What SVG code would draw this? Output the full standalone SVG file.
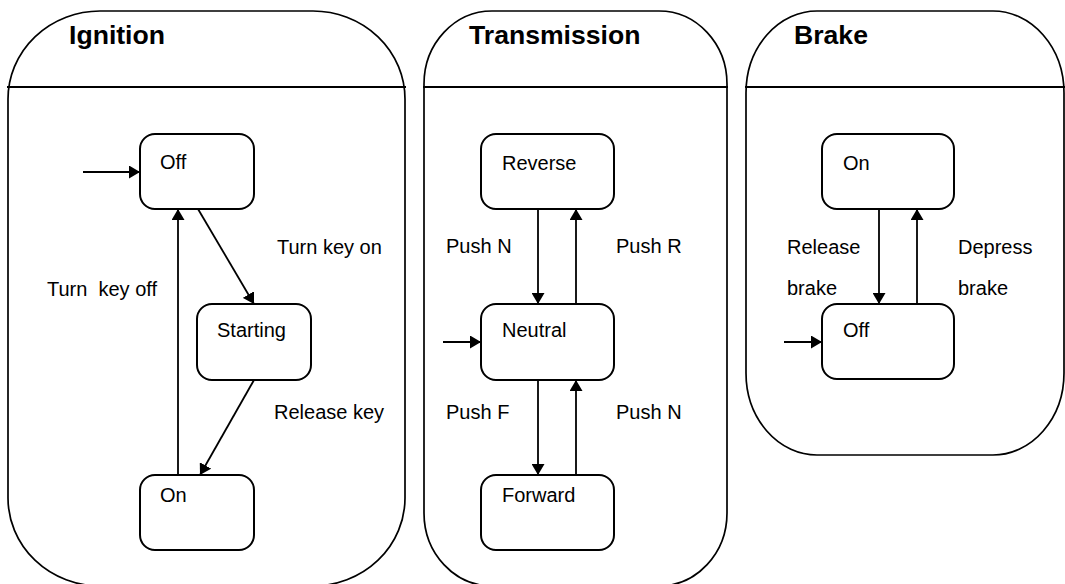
<svg xmlns="http://www.w3.org/2000/svg" width="1065" height="584" viewBox="0 0 1065 584">
  <style>
    .region { fill: none; stroke: #000; stroke-width: 1.7; }
    .divider { stroke: #000; stroke-width: 2.2; }
    .state { fill: #fff; stroke: #000; stroke-width: 2; }
    .title { font-family: "Liberation Sans", Arial, sans-serif; font-size: 26.6px; font-weight: bold; fill: #000; }
    .label { font-family: "Liberation Sans", Arial, sans-serif; font-size: 20px; fill: #000; white-space: pre; }
    .edge { fill: none; stroke: #000; stroke-width: 1.8; marker-end: url(#arrow); }
  </style>
  <defs>
    <marker id="arrow" markerUnits="userSpaceOnUse" markerWidth="12" markerHeight="13" refX="11" refY="6.5" orient="auto">
      <path d="M0,0 L11,6.5 L0,13 Z" fill="#000"/>
    </marker>
  </defs>
  <rect width="1065" height="584" fill="#fff"/>

  <!-- Orthogonal regions -->
  <g id="region-ignition">
    <rect class="region" x="8" y="11" width="397" height="575" rx="92" ry="88"/>
    <line class="divider" x1="7" y1="87" x2="406" y2="87"/>
    <text class="title" x="69" y="44">Ignition</text>
  </g>
  <g id="region-transmission">
    <rect class="region" x="424" y="11" width="303" height="575" rx="68" ry="73"/>
    <line class="divider" x1="423" y1="87" x2="728" y2="87"/>
    <text class="title" x="469" y="44">Transmission</text>
  </g>
  <g id="region-brake">
    <rect class="region" x="746" y="11" width="318" height="444" rx="71" ry="82"/>
    <line class="divider" x1="745" y1="87" x2="1065" y2="87"/>
    <text class="title" x="794" y="44">Brake</text>
  </g>

  <!-- Ignition states -->
  <g id="ign-off">
    <rect class="state" x="140" y="134" width="114" height="75" rx="15"/>
    <text class="label" x="160" y="169">Off</text>
  </g>
  <g id="ign-starting">
    <rect class="state" x="197" y="304" width="114" height="76" rx="15"/>
    <text class="label" x="217" y="337">Starting</text>
  </g>
  <g id="ign-on">
    <rect class="state" x="140" y="475" width="114" height="75" rx="15"/>
    <text class="label" x="160" y="502">On</text>
  </g>

  <!-- Transmission states -->
  <g id="trn-reverse">
    <rect class="state" x="481" y="134" width="133" height="75" rx="15"/>
    <text class="label" x="502" y="170">Reverse</text>
  </g>
  <g id="trn-neutral">
    <rect class="state" x="481" y="304" width="133" height="76" rx="15"/>
    <text class="label" x="502" y="337">Neutral</text>
  </g>
  <g id="trn-forward">
    <rect class="state" x="481" y="475" width="133" height="75" rx="15"/>
    <text class="label" x="502" y="502">Forward</text>
  </g>

  <!-- Brake states -->
  <g id="brk-on">
    <rect class="state" x="822" y="134" width="132" height="75" rx="15"/>
    <text class="label" x="843" y="170">On</text>
  </g>
  <g id="brk-off">
    <rect class="state" x="822" y="304" width="132" height="75" rx="15"/>
    <text class="label" x="843" y="337">Off</text>
  </g>

  <!-- Transitions -->
  <g id="connectors">
    <line class="edge" x1="83" y1="172" x2="140" y2="172"/>
    <line class="edge" x1="198" y1="209" x2="254" y2="304"/>
    <line class="edge" x1="254" y1="380" x2="200" y2="475"/>
    <line class="edge" x1="178" y1="475" x2="178" y2="209"/>

    <line class="edge" x1="443" y1="342" x2="481" y2="342"/>
    <line class="edge" x1="538" y1="209" x2="538" y2="304"/>
    <line class="edge" x1="576" y1="304" x2="576" y2="209"/>
    <line class="edge" x1="538" y1="380" x2="538" y2="475"/>
    <line class="edge" x1="576" y1="475" x2="576" y2="380"/>

    <line class="edge" x1="784" y1="342" x2="822" y2="342"/>
    <line class="edge" x1="879" y1="209" x2="879" y2="304"/>
    <line class="edge" x1="917" y1="304" x2="917" y2="209"/>
  </g>

  <!-- Transition labels -->
  <g id="transition-labels">
    <text class="label" x="277" y="254">Turn key on</text>
    <text class="label" x="47" y="296">Turn  key off</text>
    <text class="label" x="274" y="419">Release key</text>

    <text class="label" x="446" y="253">Push N</text>
    <text class="label" x="616" y="253">Push R</text>
    <text class="label" x="446" y="419">Push F</text>
    <text class="label" x="616" y="419">Push N</text>

    <text class="label" x="787" y="254">Release</text>
    <text class="label" x="787" y="295">brake</text>
    <text class="label" x="958" y="254">Depress</text>
    <text class="label" x="958" y="295">brake</text>
  </g>
</svg>
